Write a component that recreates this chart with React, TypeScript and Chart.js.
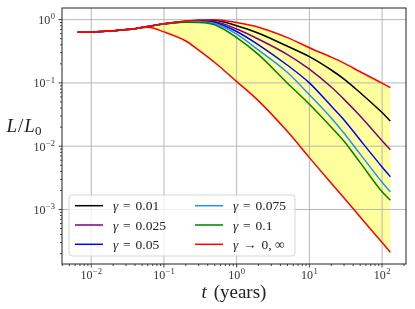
import React, { useEffect, useRef } from 'react';
import { Chart, registerables } from 'chart.js';
Chart.register(...registerables);

// time in years
const times = [0.0065, 0.01, 0.02, 0.04, 0.06, 0.1, 0.2, 0.3, 0.5, 1, 2, 5, 10, 20, 30, 50, 100, 130];
// L / L0 for each gamma
const gamma001 = [0.63, 0.638, 0.67, 0.72, 0.78, 0.86, 0.94, 0.965, 0.97, 0.8, 0.61, 0.38, 0.26, 0.16, 0.115, 0.07, 0.034, 0.025];
const gamma0025 = [0.63, 0.638, 0.67, 0.72, 0.78, 0.86, 0.935, 0.955, 0.93, 0.71, 0.49, 0.28, 0.165, 0.086, 0.055, 0.03, 0.0122, 0.0088];
const gamma005 = [0.63, 0.638, 0.67, 0.72, 0.78, 0.855, 0.93, 0.945, 0.9, 0.65, 0.4, 0.19, 0.1, 0.043, 0.026, 0.0125, 0.0047, 0.0033];
const gamma0075 = [0.63, 0.638, 0.67, 0.72, 0.78, 0.855, 0.925, 0.93, 0.87, 0.59, 0.33, 0.146, 0.065, 0.028, 0.016, 0.0075, 0.0027, 0.0019];
const gamma01 = [0.63, 0.638, 0.67, 0.72, 0.78, 0.85, 0.91, 0.905, 0.83, 0.52, 0.28, 0.099, 0.046, 0.02, 0.012, 0.0055, 0.0019, 0.0014];
const limitUpper = [0.63, 0.638, 0.67, 0.72, 0.78, 0.86, 0.95, 0.985, 1.0, 0.9, 0.76, 0.52, 0.36, 0.255, 0.205, 0.15, 0.099, 0.084];
const limitLower = [0.63, 0.638, 0.67, 0.72, 0.76, 0.64, 0.46, 0.33, 0.21, 0.105, 0.052, 0.017, 0.0066, 0.0026, 0.00152, 0.00076, 0.0003, 0.00021];

const gammaLabels = ['0.01', '0.025', '0.05', '0.075', '0.1'];
const gammaSeries = [gamma001, gamma0025, gamma005, gamma0075, gamma01];
const gammaColors = ['#000000', '#800080', '#0000ff', '#1e90ff', '#008000'];
const limitColor = '#ff0000';
const limitLabel = '0, \u221e';

const xTickExponents = [-2, -1, 0, 1, 2];
const yTickExponents = [0, -1, -2, -3];

const SERIF = '"Liberation Serif", "DejaVu Serif", serif';

function logLimits(vals: number[]) {
  const lo = Math.log10(Math.min(...vals));
  const hi = Math.log10(Math.max(...vals));
  const m = (hi - lo) * 0.05;
  return [Math.pow(10, lo - m), Math.pow(10, hi + m)];
}

function pts(ys: number[]) {
  return ys.map((y, i) => ({ x: times[i], y }));
}

function isPow10(v: number) {
  const l = Math.log10(v);
  return Math.abs(l - Math.round(l)) < 1e-6;
}

function drawPow(ctx: CanvasRenderingContext2D, exp: number, x: number, y: number, align: 'right' | 'center') {
  const base = '10';
  const sup = exp < 0 ? '\u2212' + Math.abs(exp) : String(exp);
  ctx.font = `12px ${SERIF}`;
  const wb = ctx.measureText(base).width;
  ctx.font = `8.5px ${SERIF}`;
  const ws = ctx.measureText(sup).width;
  const total = wb + ws + 0.5;
  const x0 = align === 'right' ? x - total : x - total / 2;
  ctx.textAlign = 'left';
  ctx.textBaseline = 'alphabetic';
  ctx.font = `12px ${SERIF}`;
  ctx.fillText(base, x0, y);
  ctx.font = `8.5px ${SERIF}`;
  ctx.fillText(sup, x0 + wb + 0.5, y - 4.8);
}

const mplPlugin = {
  id: 'mplAxes',
  beforeDatasetsDraw(chart: any) {
    const { ctx, chartArea: a, scales } = chart;
    const xs = scales.x, ys = scales.y;
    ctx.save();
    ctx.strokeStyle = '#b0b0b0';
    ctx.lineWidth = 0.9;
    xTickExponents.forEach((e) => {
      const px = xs.getPixelForValue(Math.pow(10, e));
      ctx.beginPath(); ctx.moveTo(px, a.top); ctx.lineTo(px, a.bottom); ctx.stroke();
    });
    yTickExponents.forEach((e) => {
      const py = ys.getPixelForValue(Math.pow(10, e));
      ctx.beginPath(); ctx.moveTo(a.left, py); ctx.lineTo(a.right, py); ctx.stroke();
    });
    ctx.restore();
  },
  afterDatasetsDraw(chart: any) {
    const { ctx, chartArea: a } = chart;
    ctx.save();
    const bx = a.left + 7, by = a.bottom - 69, bw = 226, bh = 61, r = 3;
    ctx.beginPath();
    ctx.moveTo(bx + r, by);
    ctx.arcTo(bx + bw, by, bx + bw, by + bh, r);
    ctx.arcTo(bx + bw, by + bh, bx, by + bh, r);
    ctx.arcTo(bx, by + bh, bx, by, r);
    ctx.arcTo(bx, by, bx + bw, by, r);
    ctx.closePath();
    ctx.fillStyle = 'rgba(255,255,255,0.8)';
    ctx.fill();
    ctx.strokeStyle = '#d6d6d6';
    ctx.lineWidth = 1;
    ctx.stroke();

    const items = gammaLabels.map((l, i) => ({ color: gammaColors[i], rel: '=', val: l }));
    items.push({ color: limitColor, rel: '\u2192', val: limitLabel });
    items.forEach((it, i) => {
      const col = Math.floor(i / 3), row = i % 3;
      const lx = col === 0 ? bx + 6 : bx + 126;
      const ly = by + 10.7 + row * 19.3;
      ctx.strokeStyle = it.color;
      ctx.lineWidth = 1.5;
      ctx.beginPath(); ctx.moveTo(lx, ly); ctx.lineTo(lx + 28, ly); ctx.stroke();
      const tx = lx + 38;
      const base = ly + 4.5;
      ctx.fillStyle = '#222';
      ctx.textAlign = 'left';
      ctx.textBaseline = 'alphabetic';
      ctx.font = `italic 13.5px ${SERIF}`;
      ctx.fillText('\u03b3', tx, base);
      ctx.font = `13.5px ${SERIF}`;
      ctx.fillText(it.rel, tx + 10, base);
      const rw = ctx.measureText(it.rel).width;
      ctx.fillText(it.val, tx + 10 + rw + 5, base);
    });
    ctx.restore();
  },
  afterDraw(chart: any) {
    const { ctx, chartArea: a, scales } = chart;
    const xs = scales.x, ys = scales.y;
    ctx.save();
    // ticks
    ctx.strokeStyle = '#333';
    ctx.lineWidth = 0.9;
    const xmin = xs.min, xmax = xs.max, ymin = ys.min, ymax = ys.max;
    for (let e = -4; e <= 3; e++) {
      for (let k = 1; k <= 9; k++) {
        const v = k * Math.pow(10, e);
        const len = k === 1 ? 3.5 : 2;
        if (v >= xmin && v <= xmax) {
          const px = xs.getPixelForValue(v);
          ctx.beginPath(); ctx.moveTo(px, a.bottom); ctx.lineTo(px, a.bottom + len); ctx.stroke();
        }
        if (v >= ymin && v <= ymax) {
          const py = ys.getPixelForValue(v);
          ctx.beginPath(); ctx.moveTo(a.left, py); ctx.lineTo(a.left - len, py); ctx.stroke();
        }
      }
    }
    // spines
    ctx.strokeStyle = '#222';
    ctx.lineWidth = 1;
    ctx.strokeRect(a.left, a.top, a.right - a.left, a.bottom - a.top);

    // tick labels
    ctx.fillStyle = '#333';
    xTickExponents.forEach((e) => {
      const px = xs.getPixelForValue(Math.pow(10, e));
      drawPow(ctx, e, px, a.bottom + 14.5, 'center');
    });
    yTickExponents.forEach((e) => {
      const py = ys.getPixelForValue(Math.pow(10, e));
      drawPow(ctx, e, a.left - 7, py + 4.5, 'right');
    });

    // axis titles
    ctx.fillStyle = '#222';
    ctx.textAlign = 'left';
    ctx.textBaseline = 'alphabetic';
    // x label
    ctx.font = `italic 19px ${SERIF}`;
    const wt = ctx.measureText('t').width;
    ctx.font = `19px ${SERIF}`;
    const wy = ctx.measureText(' (years)').width;
    const cx = (a.left + a.right) / 2;
    let x0 = cx - (wt + wy + 2) / 2;
    ctx.font = `italic 19px ${SERIF}`;
    ctx.fillText('t', x0, 298);
    ctx.font = `19px ${SERIF}`;
    ctx.fillText(' (years)', x0 + wt + 2, 298);
    // y label L/L0
    const yb = (a.top + a.bottom) / 2 - 4;
    let lx = 6.5;
    ctx.font = `italic 19px ${SERIF}`;
    ctx.fillText('L', lx, yb);
    lx += ctx.measureText('L').width + 1;
    ctx.font = `19px ${SERIF}`;
    ctx.fillText('/', lx, yb);
    lx += ctx.measureText('/').width + 1;
    ctx.font = `italic 19px ${SERIF}`;
    ctx.fillText('L', lx, yb);
    lx += ctx.measureText('L').width;
    ctx.font = `13px ${SERIF}`;
    ctx.fillText('0', lx, yb + 3);
    ctx.restore();
  },
};

export default function App() {
  const ref = useRef<HTMLCanvasElement>(null);
  useEffect(() => {
    if (!ref.current) return;
    const [xmin, xmax] = logLimits(times);
    const [ymin, ymax] = logLimits([...limitLower, ...limitUpper]);
    const datasets: any[] = gammaSeries.map((s, i) => ({
      label: `\u03b3 = ${gammaLabels[i]}`,
      data: pts(s),
      borderColor: gammaColors[i],
      borderWidth: 1.5,
      pointRadius: 0,
      fill: false,
      cubicInterpolationMode: 'monotone',
      order: 10 - i,
    }));
    datasets.push({
      label: `\u03b3 \u2192 ${limitLabel}`,
      data: pts(limitUpper),
      borderColor: limitColor,
      borderWidth: 1.5,
      pointRadius: 0,
      fill: false,
      cubicInterpolationMode: 'monotone',
      order: 1,
    });
    datasets.push({
      label: 'lower',
      data: pts(limitLower),
      borderColor: limitColor,
      borderWidth: 1.5,
      pointRadius: 0,
      fill: 5,
      backgroundColor: 'rgba(255,255,0,0.38)',
      cubicInterpolationMode: 'monotone',
      order: 0,
    });
    const chart = new Chart(ref.current, {
      type: 'line',
      data: { datasets },
      options: {
        animation: false,
        responsive: false,
        parsing: true,
        layout: { padding: { left: 62, right: 9, top: 8, bottom: 45 } },
        scales: {
          x: { type: 'logarithmic', min: xmin, max: xmax, display: false },
          y: { type: 'logarithmic', min: ymin, max: ymax, display: false },
        },
        plugins: {
          legend: { display: false },
          tooltip: { enabled: false },
          filler: { drawTime: 'beforeDatasetsDraw' },
        },
      } as any,
      plugins: [mplPlugin],
    });
    return () => chart.destroy();
  }, []);
  return (
    <div style={{ position: 'fixed', left: 0, top: 0, width: 415, height: 309, background: '#fff' }}>
      <canvas ref={ref} width={415} height={309} style={{ display: 'block' }} />
    </div>
  );
}
